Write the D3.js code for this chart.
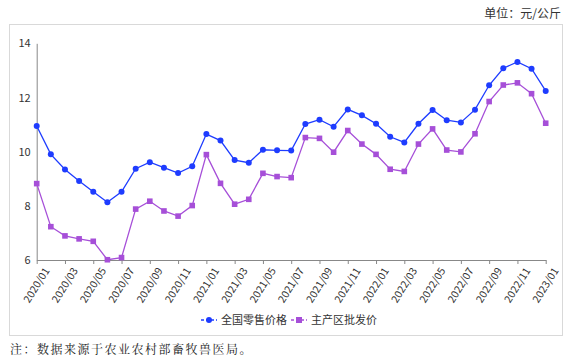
<!DOCTYPE html>
<html><head><meta charset="utf-8">
<script src="https://cdn.jsdelivr.net/npm/d3@7"></script>
<style>body{margin:0;background:#fff;}svg{display:block;}</style>
</head><body>
<svg id="c" width="574" height="359"></svg>
<script>
const months = [];
for (let y = 2020; y <= 2023; y++) for (let m = 1; m <= 12; m++) { if (y === 2023 && m > 1) break; months.push(y + "/" + String(m).padStart(2, "0")); }
const retail = [10.95,9.90,9.34,8.92,8.52,8.13,8.52,9.37,9.61,9.41,9.21,9.46,
  10.65,10.41,9.69,9.59,10.07,10.05,10.04,11.02,11.18,10.92,11.56,11.34,
  11.03,10.55,10.34,11.03,11.54,11.16,11.08,11.55,12.45,13.08,13.31,13.06,12.24];
const wholesale = [8.82,7.23,6.89,6.78,6.69,6.01,6.09,7.88,8.17,7.81,7.62,8.01,
  9.89,8.83,8.06,8.24,9.20,9.08,9.04,10.52,10.49,9.98,10.78,10.28,
  9.90,9.35,9.27,10.28,10.84,10.06,9.99,10.66,11.85,12.46,12.54,12.14,11.05];
const yTicks = [6,8,10,12,14];
const seriesNames = ["全国零售价格","主产区批发价"];
const unitLabel = "单位：元/公斤";
const note = "注：数据来源于农业农村部畜牧兽医局。";

const svg = d3.select("#c");
const font = "'Noto Sans CJK SC','Noto Sans',sans-serif";
const blue = "#1e3cff", purple = "#a64fd8";

svg.append("rect").attr("x",9.5).attr("y",24.5).attr("width",553).attr("height",311)
  .attr("fill","none").attr("stroke","#d9d9d9");
svg.append("text").attr("x",561).attr("y",18).attr("text-anchor","end")
  .attr("font-family",font).attr("font-size",12).attr("fill","#333").text(unitLabel);
svg.append("text").attr("x",10).attr("y",354).attr("letter-spacing",1.5)
  .attr("font-family","'Noto Serif CJK SC','Noto Sans CJK SC',serif").attr("font-size",12).attr("fill","#222").text(note);

const x = d3.scalePoint().domain(months).range([36.7, 545.7]);
const y = d3.scaleLinear().domain([6,14]).range([260, 43.3]);

const yAxis = svg.append("g").attr("transform","translate(36.7,0)")
  .call(d3.axisLeft(y).tickValues(yTicks).tickSize(0).tickPadding(6));
yAxis.select(".domain").attr("stroke","#888");
yAxis.selectAll("text").attr("font-family",font).attr("font-size",11).attr("fill","#333");

const xAxis = svg.append("g").attr("transform","translate(0,260)")
  .call(d3.axisBottom(x).tickValues(months.filter((d,i)=>i%2===0)).tickSize(4).tickSizeOuter(0));
xAxis.select(".domain").attr("stroke","#888");
xAxis.selectAll("line").attr("stroke","#888");
xAxis.selectAll("text").attr("font-family",font).attr("font-size",10.5).attr("fill","#333")
  .attr("text-anchor","end").attr("dx","-0.2em").attr("dy","0.9em")
  .attr("transform","rotate(-58)");

const line = d3.line().x((d,i)=>x(months[i])).y(d=>y(d));
svg.append("path").datum(wholesale).attr("d",line).attr("fill","none").attr("stroke",purple).attr("stroke-width",1.3);
svg.append("path").datum(retail).attr("d",line).attr("fill","none").attr("stroke",blue).attr("stroke-width",1.3);
svg.append("g").selectAll("rect").data(wholesale).join("rect")
  .attr("x",(d,i)=>x(months[i])-2.8).attr("y",d=>y(d)-2.8).attr("width",5.6).attr("height",5.6).attr("fill",purple);
svg.append("g").selectAll("circle").data(retail).join("circle")
  .attr("cx",(d,i)=>x(months[i])).attr("cy",d=>y(d)).attr("r",3).attr("fill",blue);

// legend
const lg = svg.append("g").attr("transform","translate(0,320)");
const items = [{n:seriesNames[0],c:blue,x:201,shape:"c"},{n:seriesNames[1],c:purple,x:291,shape:"s"}];
items.forEach(it=>{
  lg.append("line").attr("x1",it.x).attr("x2",it.x+16).attr("y1",0).attr("y2",0)
    .attr("stroke",it.c).attr("stroke-width",1.3).attr("stroke-dasharray","3,2");
  if (it.shape==="c") lg.append("circle").attr("cx",it.x+8).attr("cy",0).attr("r",3).attr("fill",it.c);
  else lg.append("rect").attr("x",it.x+5).attr("y",-3).attr("width",6).attr("height",6).attr("fill",it.c);
  lg.append("text").attr("x",it.x+20).attr("y",4).attr("font-family",font).attr("font-size",11)
    .attr("fill","#333").text(it.n);
});
</script>
</body></html>
